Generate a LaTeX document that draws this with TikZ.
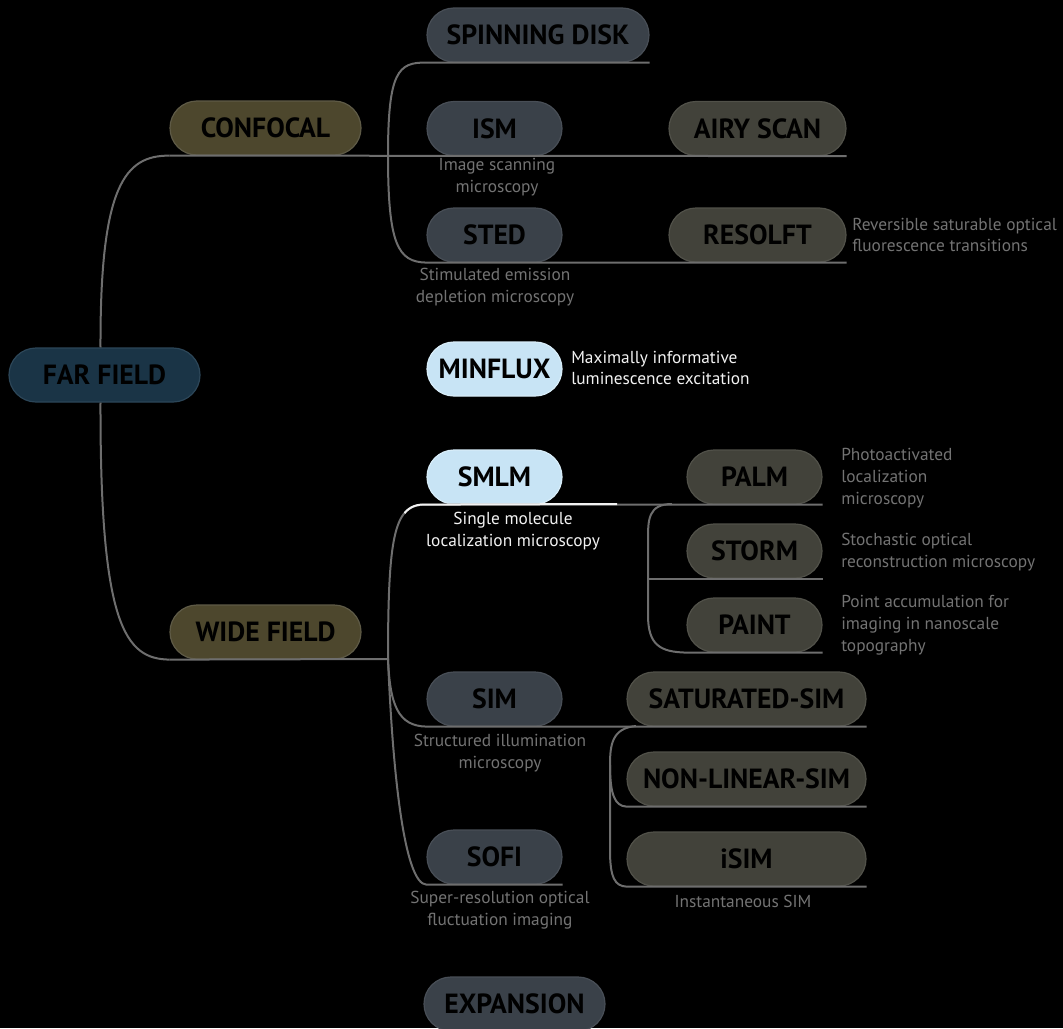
\documentclass[tikz,border=0pt]{standalone}
\usepackage{fontspec}
\setmainfont{PT Sans}
\usetikzlibrary{calc}
\definecolor{linec}{HTML}{6E6E6E}
\definecolor{descc}{HTML}{737373}
\definecolor{whitec}{HTML}{F2F2F2}
\definecolor{farf}{HTML}{1A3446}\definecolor{fard}{HTML}{2C4658}
\definecolor{olivef}{HTML}{4D472D}\definecolor{olived}{HTML}{5E5A46}
\definecolor{slatef}{HTML}{3A4149}\definecolor{slated}{HTML}{484E56}
\definecolor{greyf}{HTML}{42423A}\definecolor{greyd}{HTML}{515149}
\definecolor{lightf}{HTML}{C8E4F5}\definecolor{lightd}{HTML}{D8EDF9}
\tikzset{
  pill/.style={rectangle, rounded corners=20.25pt, minimum height=40.5pt, inner sep=0pt,
    line width=0.9pt, text=black, font=\fontsize{20.8}{24}\selectfont\bfseries},
  farpill/.style={pill, fill=farf, draw=fard},
  olivepill/.style={pill, fill=olivef, draw=olived},
  slatepill/.style={pill, fill=slatef, draw=slated},
  greypill/.style={pill, fill=greyf, draw=greyd},
  lightpill/.style={pill, fill=lightf, draw=lightd},
  desc/.style={text=descc, font=\fontsize{13}{16.4}\selectfont, inner sep=0pt, align=center},
  descl/.style={desc, align=left, anchor=west},
  wdesc/.style={desc, text=whitec},
  conn/.style={draw=linec, line width=1.5pt},
  hlconn/.style={draw=whitec, line width=1.5pt},
}
\begin{document}
\begin{tikzpicture}[x=0.75pt,y=-0.75pt]
\useasboundingbox (0,0) rectangle (1063,1028);
\clip (0,0) rectangle (1063,1028);
\fill[black] (0,0) rectangle (1063,1028);

% nodes
\node[farpill, minimum width=143.25pt] (far) at (104.5,375) {FAR FIELD};
\node[olivepill, minimum width=143.25pt] (confocal) at (265.5,128) {CONFOCAL};
\node[olivepill, minimum width=143.25pt] (wide) at (265.5,632) {WIDE FIELD};
\node[slatepill, minimum width=166.5pt] (spin) at (538,35) {SPINNING DISK};
\node[slatepill, minimum width=101.25pt] (ism) at (494.5,128.5) {ISM};
\node[slatepill, minimum width=101.25pt] (sted) at (494.5,235) {STED};
\node[greypill, minimum width=132.75pt] (airy) at (757.5,128.5) {AIRY SCAN};
\node[greypill, minimum width=132.75pt] (resolft) at (757.5,235) {RESOLFT};
\node[lightpill, minimum width=101.25pt] (minflux) at (494.5,369) {MINFLUX};
\node[lightpill, minimum width=101.25pt] (smlm) at (494.5,477) {SMLM};
\node[greypill, minimum width=101.25pt] (palm) at (754.5,477) {PALM};
\node[greypill, minimum width=101.25pt] (storm) at (754.5,551) {STORM};
\node[greypill, minimum width=101.25pt] (paint) at (754.5,625) {PAINT};
\node[slatepill, minimum width=101.25pt] (sim) at (494.5,699) {SIM};
\node[greypill, minimum width=179.25pt] (sat) at (746.5,699) {SATURATED-SIM};
\node[greypill, minimum width=179.25pt] (nonlin) at (746.5,779) {NON-LINEAR-SIM};
\node[greypill, minimum width=179.25pt] (isim) at (746.5,859) {iSIM};
\node[slatepill, minimum width=101.25pt] (sofi) at (494.5,857) {SOFI};
\node[slatepill, minimum width=135.75pt] (expansion) at (514.5,1004) {EXPANSION};

% descriptions
\node[desc] (dism) at (497,177) {Image scanning\\microscopy};
\node[desc] (dsted) at (495,287) {Stimulated emission\\depletion microscopy};
\node[descl] (dresolft) at (852,235) {Reversible saturable optical\\fluorescence transitions};
\node[wdesc, align=left, anchor=west] (dminflux) at (571,368) {Maximally informative\\luminescence excitation};
\node[wdesc] (dsmlm) at (513,531.5) {Single molecule\\localization microscopy};
\node[descl] (dpalm) at (841,478) {Photoactivated\\localization\\microscopy};
\node[descl] (dstorm) at (841,552) {Stochastic optical\\reconstruction microscopy};
\node[descl] (dpaint) at (841,625.5) {Point accumulation for\\imaging in nanoscale\\topography};
\node[desc] (dsim) at (500,753) {Structured illumination\\microscopy};
\node[desc] (dsofi) at (500,910.5) {Super-resolution optical\\fluctuation imaging};
\node[desc] (disim) at (743,901) {Instantaneous SIM};

% branch points
\coordinate (croot) at (388,155.5);
\coordinate (wroot) at (388,659);
\coordinate (pbx) at (648,504);
\coordinate (sroot) at (636,726);
\coordinate (sbx) at (610,765);
\coordinate (hl) at (404.5,513.1);
\coordinate (hlend) at (617,504);

% far field
\draw[conn] ($(far.north)+(-4,0)$) .. controls (100,185) and (125,155.5) .. (confocal.south west);
\draw[conn] ($(far.south)+(-4,0)$) .. controls (100,625) and (125,659) .. (wide.south west);
% confocal
\draw[conn] (confocal.south west) -- (airy.south east);
\draw[conn] (croot) .. controls (388,72) and (398,62) .. (spin.south west) -- (spin.south east);
\draw[conn] (croot) .. controls (388,245) and (398,262) .. (sted.south west) -- (resolft.south east);
% wide field
\draw[conn] (wide.south west) -- (wroot);
\draw[conn] (wroot) .. controls (388,530) and (395,504) .. (smlm.south west) -- (palm.south east);
\draw[hlconn] (hl) .. controls (410.05,506.34) and (417.4,504) .. (smlm.south west) -- (hlend);
\draw[conn] (wroot) .. controls (390,705) and (398,726) .. (sim.south west) -- (sat.south east);
\draw[conn] (wroot) .. controls (393,780) and (405,884) .. (sofi.south west) -- (sofi.south east);
% smlm subbranch
\draw[conn] (672,504) .. controls (648,504) and (648,520) .. (648,540) -- (648,615) .. controls (648,645) and (660,652) .. (paint.south west) -- (paint.south east);
\draw[conn] (storm.south -| pbx) -- (storm.south east);
% sim subbranch
\draw[conn] (sroot) .. controls (612,728) and (610,745) .. (sbx) -- (610,850) .. controls (610,878) and (615,886) .. (isim.south west) -- (isim.south east);
\draw[conn] (sbx) .. controls (610,795) and (615,806) .. (nonlin.south west) -- (nonlin.south east);
\end{tikzpicture}
\end{document}
